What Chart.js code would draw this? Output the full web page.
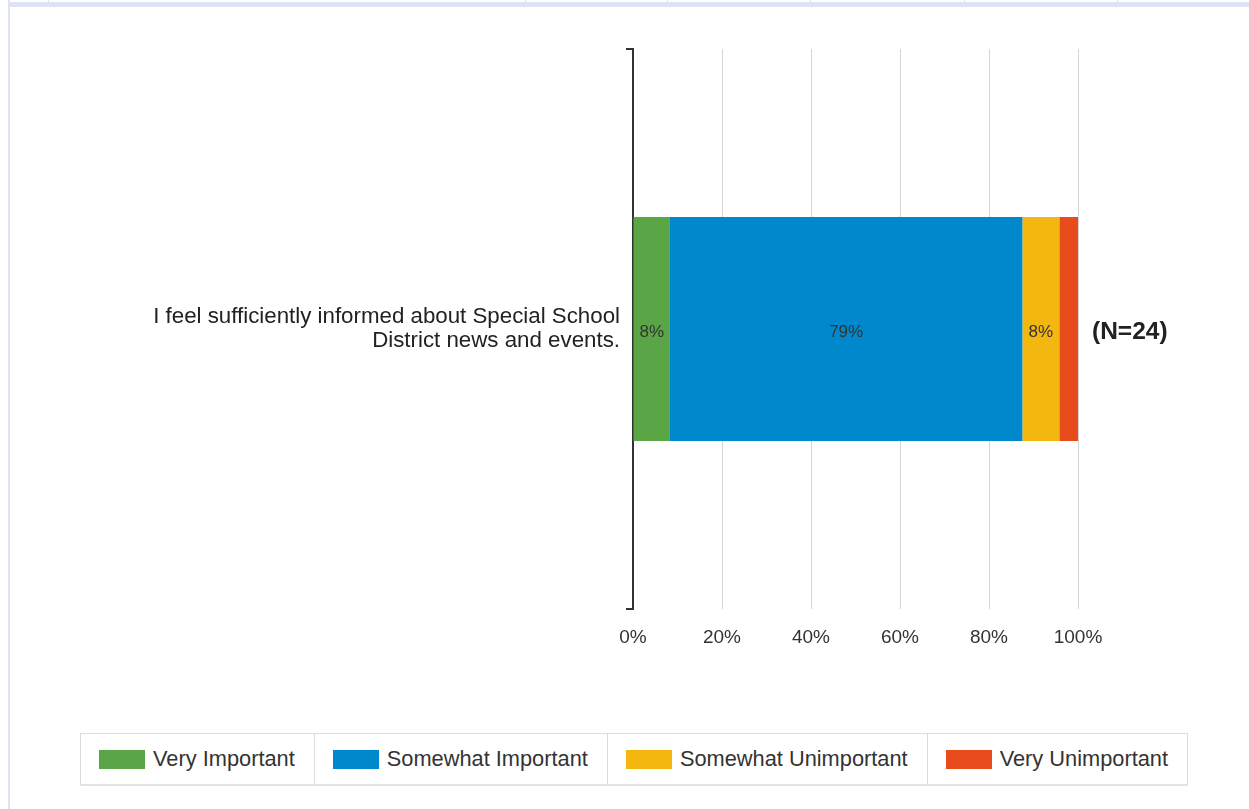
<!DOCTYPE html>
<html>
<head>
<meta charset="utf-8">
<script src="https://cdn.jsdelivr.net/npm/chart.js@4/dist/chart.umd.min.js"></script>
<style>
  html, body { margin: 0; padding: 0; background: #fff; }
  body { width: 1249px; height: 809px; position: relative; overflow: hidden; font-family: "Liberation Sans", Arial, sans-serif; }
  .topband { position: absolute; left: 8px; right: 0; top: 2px; height: 5px; background: #dfe2f3; }
  .leftline { position: absolute; left: 8px; top: 0; width: 2px; height: 809px; background: #dfe2f3; }
  .sep { position: absolute; top: 0; width: 1px; height: 2px; background: #dfe2f3; }
  #wrap { position: absolute; left: 0; top: 0; width: 1249px; height: 700px; }
  #legend { position: absolute; left: 80px; top: 733px; height: 50px; display: flex; border: 1px solid #dcdcdc; border-bottom: 2px solid #e4e4e4; }
  #legend .item { display: flex; align-items: center; padding: 0 19px 0 18px; border-right: 1px solid #dcdcdc; font-size: 21.8px; color: #333; }
  #legend .item:last-child { border-right: none; }
  #legend .sw { width: 46px; height: 19px; margin-right: 8px; }
</style>
</head>
<body>
<div class="leftline"></div>
<div class="topband"></div>
<div class="sep" style="left:48px"></div>
<div class="sep" style="left:525px"></div>
<div class="sep" style="left:667px"></div>
<div class="sep" style="left:810px"></div>
<div class="sep" style="left:964px"></div>
<div class="sep" style="left:1117px"></div>
<div id="wrap"><canvas id="graph1"></canvas></div>
<div id="legend"></div>
<script>
  // ---------------- data ----------------
  const categories = [['I feel sufficiently informed about Special School', 'District news and events.']]
  const seriesNames = ['Very Important', 'Somewhat Important', 'Somewhat Unimportant', 'Very Unimportant']
  const veryImportant = [8.3]
  const somewhatImportant = [79.2]
  const somewhatUnimportant = [8.3]
  const veryUnimportant = [4.2]
  const seriesColors = ['#5aa646', '#0088cc', '#f4b70f', '#e84c1c']
  const nLabels = ['(N=24)']
  const xTicks = [0, 20, 40, 60, 80, 100]

  const seriesValues = [veryImportant, somewhatImportant, somewhatUnimportant, veryUnimportant]

  // percent labels inside the bar segments + N label to the right
  const barLabels = {
    id: 'barLabels',
    afterDatasetsDraw(chart) {
      const c = chart.ctx
      c.save()
      c.textBaseline = 'middle'
      chart.data.datasets.forEach((ds, i) => {
        const meta = chart.getDatasetMeta(i)
        meta.data.forEach((bar, j) => {
          const w = Math.abs(bar.x - bar.base)
          if (w < 25) return
          c.font = '17px "Liberation Sans", Arial, sans-serif'
          c.fillStyle = '#333'
          c.textAlign = 'center'
          c.fillText(Math.round(ds.data[j]) + '%', (bar.x + bar.base) / 2, bar.y + 3)
        })
      })
      const last = chart.getDatasetMeta(chart.data.datasets.length - 1)
      last.data.forEach((bar, j) => {
        c.font = 'bold 24.5px "Liberation Sans", Arial, sans-serif'
        c.fillStyle = '#222'
        c.textAlign = 'left'
        c.fillText(nLabels[j], chart.chartArea.right + 14, bar.y + 3)
      })
      // bracket ends on the category axis
      const a = chart.chartArea
      c.strokeStyle = '#333'
      c.lineWidth = 2
      c.beginPath()
      c.moveTo(a.left - 6, a.top); c.lineTo(a.left, a.top)
      c.moveTo(a.left - 6, a.bottom); c.lineTo(a.left, a.bottom)
      c.stroke()
      c.restore()
    }
  }

  const ctx = document.getElementById('graph1')
  new Chart(ctx, {
    type: 'bar',
    data: {
      labels: categories,
      datasets: seriesNames.map((name, i) => ({
        label: name,
        data: seriesValues[i],
        backgroundColor: seriesColors[i],
        borderWidth: 0,
        categoryPercentage: 0.4,
        barPercentage: 1
      }))
    },
    options: {
      indexAxis: 'y',
      responsive: true,
      maintainAspectRatio: false,
      animation: false,
      layout: { padding: { top: 49, right: 171, left: 0, bottom: 0 } },
      plugins: { legend: { display: false }, tooltip: { enabled: false } },
      scales: {
        x: {
          stacked: true,
          min: 0,
          max: 100,
          afterBuildTicks: (s) => { s.ticks = xTicks.map(v => ({ value: v })) },
          afterFit: (s) => { s.height = 91 },
          ticks: {
            callback: v => v + '%',
            color: '#333',
            padding: 17,
            font: { family: '"Liberation Sans", Arial, sans-serif', size: 19 }
          },
          grid: { color: '#d6d6d6', lineWidth: 1, drawTicks: false },
          border: { display: false }
        },
        y: {
          stacked: true,
          afterFit: (s) => { s.width = 633 },
          ticks: {
            color: '#222',
            padding: 6,
            font: { family: '"Liberation Sans", Arial, sans-serif', size: 22.3, lineHeight: 1.05 }
          },
          grid: { drawOnChartArea: false, tickLength: 7, color: '#333', lineWidth: 2 },
          border: { color: '#333', width: 2 }
        }
      }
    },
    plugins: [barLabels]
  })

  // html legend with boxed cells
  const lg = document.getElementById('legend')
  seriesNames.forEach((name, i) => {
    const it = document.createElement('div')
    it.className = 'item'
    it.innerHTML = '<span class="sw" style="background:' + seriesColors[i] + '"></span>' + name
    lg.appendChild(it)
  })
</script>
</body>
</html>
